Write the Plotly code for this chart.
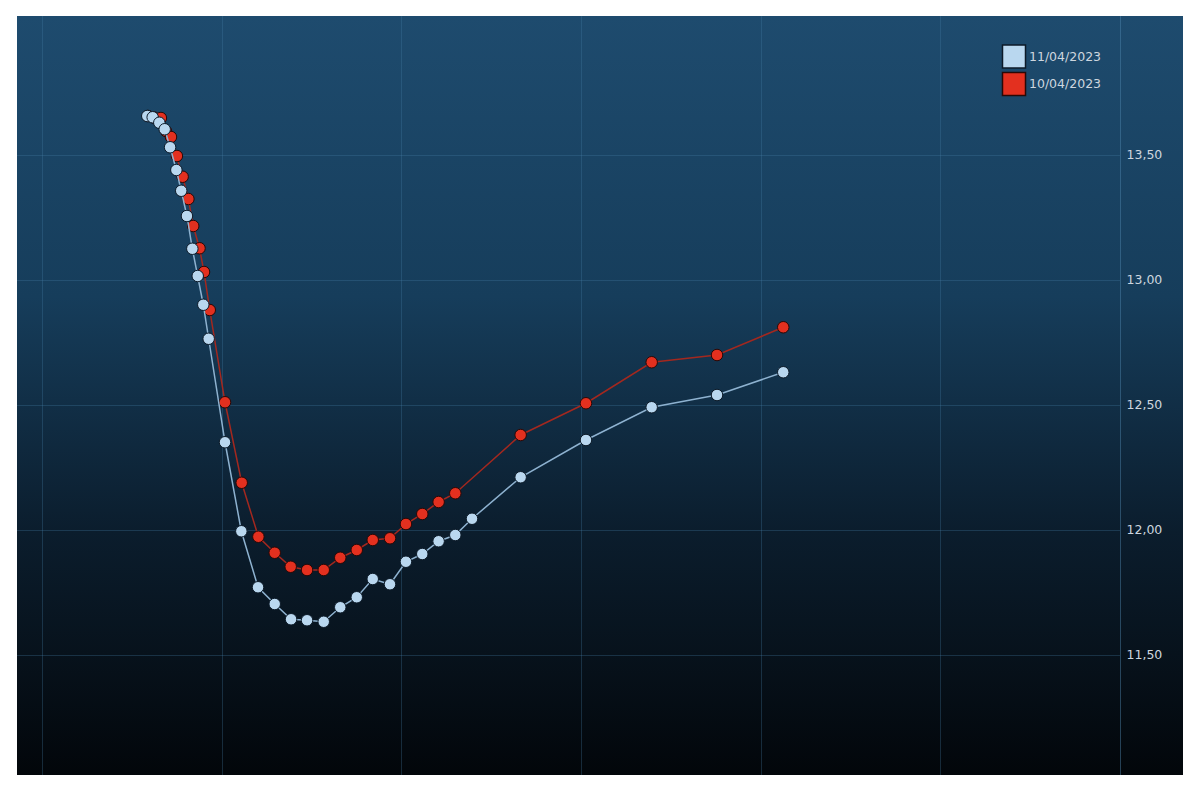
import base64
import plotly.graph_objects as go

# ---- data (x in chart units, gridlines every 1.0) ----
blue_x = [0.581, 0.611, 0.648, 0.678, 0.708, 0.743, 0.770, 0.802, 0.832, 0.862,
          0.893, 0.923, 1.014, 1.105, 1.198, 1.291, 1.382, 1.471, 1.564, 1.656,
          1.748, 1.837, 1.933, 2.022, 2.113, 2.204, 2.297, 2.390, 2.661, 3.025,
          3.391, 3.755, 4.124]
blue_y = [13.656, 13.651, 13.629, 13.603, 13.531, 13.440, 13.357, 13.256, 13.125, 13.016,
          12.901, 12.765, 12.351, 11.995, 11.771, 11.704, 11.643, 11.639, 11.633, 11.691,
          11.731, 11.804, 11.783, 11.873, 11.904, 11.955, 11.980, 12.045, 12.211, 12.360,
          12.491, 12.540, 12.631]

red_x = [0.585, 0.618, 0.657, 0.685, 0.713, 0.746, 0.778, 0.810, 0.837, 0.872,
         0.897, 0.929, 1.014, 1.107, 1.200, 1.291, 1.380, 1.471, 1.564, 1.656,
         1.748, 1.837, 1.933, 2.022, 2.113, 2.204, 2.297, 2.661, 3.025, 3.391,
         3.755, 4.124]
red_y = [13.656, 13.650, 13.648, 13.596, 13.572, 13.496, 13.413, 13.324, 13.216, 13.127,
         13.032, 12.880, 12.511, 12.189, 11.973, 11.909, 11.853, 11.840, 11.840, 11.889,
         11.920, 11.960, 11.967, 12.024, 12.064, 12.112, 12.147, 12.380, 12.507, 12.671,
         12.700, 12.811]

series_names = ["11/04/2023", "10/04/2023"]
y_ticks = [11.5, 12.0, 12.5, 13.0, 13.5]
y_tick_labels = ["11,50", "12,00", "12,50", "13,00", "13,50"]

BLUE_FILL = "#b9d7ef"
BLUE_LINE = "#8eb2d0"
RED_FILL = "#e3301f"
RED_LINE = "#a3281f"
GRID = "rgba(70,125,165,0.30)"
TXT = "#cdd6df"
FONT = "DejaVu Sans, Verdana, sans-serif"

fig = go.Figure()
fig.add_trace(go.Scatter(
    x=red_x, y=red_y, mode="lines+markers", name=series_names[1], showlegend=False,
    line=dict(color=RED_LINE, width=1.5),
    marker=dict(size=11.5, color=RED_FILL, line=dict(color="#2a0806", width=1)),
))
fig.add_trace(go.Scatter(
    x=blue_x, y=blue_y, mode="lines+markers", name=series_names[0], showlegend=False,
    line=dict(color=BLUE_LINE, width=1.5),
    marker=dict(size=11.5, color=BLUE_FILL, line=dict(color="#0c1a28", width=1)),
))

# gradient background as an SVG image
svg = ('<svg xmlns="http://www.w3.org/2000/svg" width="100" height="100" preserveAspectRatio="none">'
       '<defs><linearGradient id="g" x1="0" y1="0" x2="0" y2="1">'
       '<stop offset="0" stop-color="#1e4b6e"/>'
       '<stop offset="0.37" stop-color="#163d5b"/>'
       '<stop offset="0.68" stop-color="#0b1d2d"/>'
       '<stop offset="0.84" stop-color="#07121c"/>'
       '<stop offset="1" stop-color="#02060a"/>'
       '</linearGradient></defs>'
       '<rect width="100" height="100" fill="url(#g)"/></svg>')
src = "data:image/svg+xml;base64," + base64.b64encode(svg.encode()).decode()

# page body has an 8px margin; figure coords = screen coords - 8
OFF = 8
W, H = 1200 - 2 * OFF, 792 - 2 * OFF
box_l, box_t, box_r, box_b = 17 - OFF, 16 - OFF, 1183 - OFF, 775 - OFF
plot_r = 1120 - OFF
ml, mt = box_l, box_t
mr, mb = W - plot_r, H - box_b
plot_w = W - ml - mr
plot_h = H - mt - mb

fig.add_layout_image(dict(
    source=src, xref="paper", yref="paper", x=0, y=1,
    sizex=(box_r - box_l) / plot_w, sizey=1, xanchor="left", yanchor="top",
    sizing="stretch", layer="below",
))

# legend (manual swatches + text), given in screen px
def px_x(p):
    return (p - OFF - ml) / plot_w

def px_y(p):
    return 1 - (p - OFF - mt) / plot_h

legend_rows = [(56.5, BLUE_FILL, "#0c1a28", series_names[0]),
               (84.0, RED_FILL, "#2a0806", series_names[1])]
for cy, fill, edge, label in legend_rows:
    fig.add_shape(type="rect", xref="paper", yref="paper",
                  x0=px_x(1002.5), x1=px_x(1025.5), y0=px_y(cy + 11.5), y1=px_y(cy - 11.5),
                  fillcolor=fill, line=dict(color=edge, width=1.5), layer="above")
    fig.add_annotation(xref="paper", yref="paper", x=px_x(1026.5), y=px_y(cy),
                       xanchor="left", yanchor="middle", text=label, showarrow=False,
                       font=dict(family=FONT, size=12.5, color=TXT))

fig.update_layout(
    width=W, height=H,
    margin=dict(l=ml, r=mr, t=mt, b=mb, pad=0),
    paper_bgcolor="white",
    plot_bgcolor="rgba(0,0,0,0)",
    showlegend=False,
    font=dict(family=FONT, size=12, color=TXT),
    xaxis=dict(range=[-0.1448, 6.0], dtick=1, tick0=0, showgrid=True, gridcolor=GRID,
               gridwidth=1, zeroline=False, showticklabels=False, ticks="",
               showline=False, fixedrange=True),
    yaxis=dict(range=[11.02, 14.056], side="right", tickvals=y_ticks, ticktext=y_tick_labels,
               showgrid=True, gridcolor=GRID, gridwidth=1, zeroline=False,
               showline=True, linecolor="rgba(80,135,175,0.45)", linewidth=1,
               ticks="", ticklabelstandoff=3,
               tickfont=dict(family=FONT, size=12.5, color=TXT), fixedrange=True),
)

fig.write_html("out.html")
